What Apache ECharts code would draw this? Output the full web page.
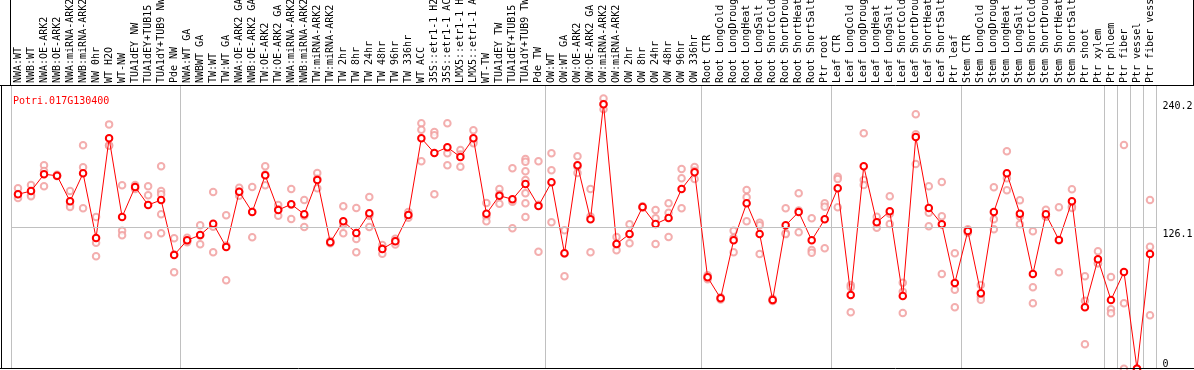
<!DOCTYPE html>
<html>
<head>
<meta charset="utf-8">
<script src="https://cdn.jsdelivr.net/npm/echarts@6/dist/echarts.min.js"></script>
<style>
html,body{margin:0;padding:0;background:#fff;}
#c{width:1194px;height:370px;}
</style>
</head>
<body>
<div id="c"></div>
<script>
const geneTitle = "Potri.017G130400";

const categories = [
  "NWA:WT","NWB:WT","NWA:OE-ARK2","NWB:OE-ARK2","NWA:miRNA-ARK2","NWB:miRNA-ARK2","NW 0hr","WT H2O","WT-NW","TUA1dEY NW","TUA1dEY+TUB15 NW","TUA1dY+TUB9 NW","Pde NW",
  "NWA:WT GA","NWBWT GA","TW:WT","TW:WT GA","NWA:OE-ARK2 GA","NWB:OE-ARK2 GA","TW:OE-ARK2","TW:OE-ARK2 GA","NWA:miRNA-ARK2 GA","NWB:miRNA-ARK2 GA","TW:miRNA-ARK2","TW:miRNA-ARK2 GA","TW 2hr","TW 8hr","TW 24hr","TW 48hr","TW 96hr","TW 336hr","WT ACC","35S::etr1-1 H2O","35S::etr1-1 ACC","LMX5::etr1-1 H2O","LMX5::etr1-1 ACC","WT-TW","TUA1dEY TW","TUA1dEY+TUB15 TW","TUA1dY+TUB9 TW","Pde TW",
  "OW:WT","OW:WT GA","OW:OE-ARK2","OW:OE-ARK2 GA","OW:miRNA-ARK2","OW:miRNA-ARK2 GA","OW 2hr","OW 8hr","OW 24hr","OW 48hr","OW 96hr","OW 336hr",
  "Root CTR","Root LongCold","Root LongDrought","Root LongHeat","Root LongSalt","Root ShortCold","Root ShortDrought","Root ShortHeat","Root ShortSalt","Ptr root",
  "Leaf CTR","Leaf LongCold","Leaf LongDrought","Leaf LongHeat","Leaf LongSalt","Leaf ShortCold","Leaf ShortDrought","Leaf ShortHeat","Leaf ShortSalt","Ptr leaf",
  "Stem CTR","Stem LongCold","Stem LongDrought","Stem LongHeat","Stem LongSalt","Stem ShortCold","Stem ShortDrought","Stem ShortHeat","Stem ShortSalt","Ptr shoot","Ptr xylem",
  "Ptr phloem","Ptr fiber","Ptr vessel","Ptr fiber vessel"
];

// indices of the first category of each group (separator lines)
const groupStarts = [0, 13, 41, 53, 63, 73, 84, 85, 86, 87];

const means = [
  155.7,158.6,173.5,172.3,149.4,174.4,116.8,205.6,135.5,162.2,146.2,150.6,101.6,
  114.7,119.4,129.5,108.7,158.0,139.9,172.6,141.7,146.8,137.9,168.4,112.9,131.6,121.2,138.8,107.0,113.8,137.3,205.6,192.5,197.6,188.9,205.6,138.4,154.5,151.2,164.9,145.3,
  166.4,103.1,181.5,133.4,235.9,111.4,120.3,144.4,129.2,134.6,160.4,175.3,
  81.7,63.0,114.7,147.7,120.3,61.5,128.1,139.9,114.7,133.4,
  161.0,66.0,180.7,130.7,140.5,65.1,206.8,143.5,129.0,76.6,
  123.0,67.5,139.9,174.4,138.4,84.7,137.9,115.0,149.4,55.0,97.8,
  61.5,86.5,0.3,102.5
];

const replicates = [
  [161,156,152.5],[164,155,154],[181.5,176.5,162.8],[173,172,172],[158.6,146,144.4],[199.4,179.7,143.2],[135.5,112.6,100.4],[218,199.4,199],[163.7,123.3,119.1],[164,162,160.5],[162.8,154.8,119.1],[180.7,158.6,155.7,137.9,121],[116.5,102,86.2],
  [117,114,113],[128.1,119,111.1],[157.8,126.7,104],[137,110,79],[161.6,158,154.5],[162.2,140.1,117.4],[180.7,173.4,163.7],[146.2,142.3,136.6],[160.4,146.3,133.7],[150.6,136.5,126.6],[174.7,169.5,161],[114,113,112],[145,128.9,120.9],[143.5,115.9,104],[153.3,136.5,126.6],[110.5,107.7,102.8],[116,114,111],[139.9,137.3,134.7],[219,213.3,185.1],[211.2,208.3,155.7],[219,192.2,181.5],[195.2,191.2,180.3],[212.7,203,201.1],[148,135.6,131.6],[160.4,155.8,147.3],[178.9,149.1,125.4],[187.2,184.8,176.2,168.4,156.6,147.7,135.5],[185.1,146.3,104.5],
  [192.2,177.1,130.7],[123.6,103,82.6],[189.5,180.3,174.7],[160.4,135.8,104],[241,236.1,231.4],[117.6,110.8,105.8],[129,120,112],[145,144.4,143.8],[141.7,134.3,111.4],[147.7,139.3,117.6],[178.3,170,143.2],[180,176.6,169.3],
  [83.5,81.7,80],[64,63,62],[123.3,116.8,104],[159.5,153,131.6],[130.4,128.1,102.5],[62.5,61.5,60.5],[143.2,120.9,120.2],[156.6,141.3,121.8],[134.3,106.1,103.7],[147.7,144.7,107.6],
  [171.4,169.3,144.1],[74.9,72.8,50.5],[210,168.4,164],[135.7,130.5,125.9],[153.9,138.4,129.2],[76.9,68.9,49.9],[227,209.2,182.7],[162.8,139.3,127.2],[166.7,136.1,84.7],[103.1,70.7,55],
  [124.5,123,121.5],[74.9,64.4,61.8],[161.9,133.4,124.5],[194,169.9,159.3],[150.4,135.8,129],[122.7,72.8,58.6],[142,136,135.7],[144.1,114.7,86.2],[160.1,144.7,143.4],[82.6,60.9,22],[104.9,94.3,94.2],
  [82,53.2,49.6],[199.6,58.6,0.3],[0.5,0.3,0],[150.6,109,47.9]
];

const yMax = 252.2;
const midLine = 126.1;
const upperLabels = [126.1, 240.2];
const lowerLabels = [0];

const repPoints = [];
replicates.forEach((arr, i) => arr.forEach(v => repPoints.push([i, v])));

const mono = "DejaVu Sans Mono";
const isSep = (idx) => groupStarts.indexOf(idx) >= 0;

const chart = echarts.init(document.getElementById('c'), null, {renderer: 'canvas'});
chart.setOption({
  animation: false,
  backgroundColor: '#ffffff',
  title: {
    text: geneTitle,
    left: 8, top: 91,
    textStyle: {color: '#ff0000', fontFamily: mono, fontSize: 10, fontWeight: 'normal'}
  },
  grid: {left: 11.5, right: 37.5, top: 86, bottom: 1, containLabel: false, outerBoundsMode: 'none'},
  xAxis: {
    type: 'category',
    position: 'top',
    data: categories,
    boundaryGap: true,
    axisLine: {show: false},
    axisTick: {show: true, interval: isSep, length: 86, lineStyle: {color: '#c0c0c0', width: 1}},
    splitLine: {show: true, interval: isSep, lineStyle: {color: '#c0c0c0', width: 1}},
    axisLabel: {
      interval: 0, rotate: 90, margin: 3, hideOverlap: false,
      fontFamily: mono, fontSize: 10, color: '#000'
    }
  },
  yAxis: [
    {
      type: 'value', min: 0, max: yMax, position: 'right',
      axisLine: {show: false}, axisTick: {show: false}, splitLine: {show: false},
      axisLabel: {customValues: upperLabels, verticalAlign: 'top', margin: 6, padding: [2, 0, 0, 0], fontFamily: mono, fontSize: 10, color: '#000'}
    },
    {
      type: 'value', min: 0, max: yMax, position: 'right',
      axisLine: {show: false}, axisTick: {show: false}, splitLine: {show: false},
      axisLabel: {customValues: lowerLabels, verticalAlign: 'bottom', margin: 6, fontFamily: mono, fontSize: 10, color: '#000'}
    }
  ],
  series: [
    {
      type: 'scatter',
      yAxisIndex: 0,
      data: repPoints,
      symbol: 'emptyCircle',
      symbolSize: 6.5,
      itemStyle: {color: '#f09a9a', borderColor: '#f09a9a', borderWidth: 1.1},
      z: 1,
      silent: true,
      markLine: {
        silent: true, symbol: 'none', label: {show: false},
        lineStyle: {color: '#c0c0c0', width: 1, type: 'solid'},
        data: [{yAxis: midLine}]
      }
    },
    {
      type: 'line',
      yAxisIndex: 0,
      data: means,
      symbol: 'emptyCircle',
      symbolSize: 6.5,
      lineStyle: {color: '#ff0000', width: 1},
      itemStyle: {color: '#ff0000', borderColor: '#ff0000', borderWidth: 1.5},
      z: 3,
      silent: true
    }
  ],
  graphic: [
    {type: 'line', z: 100, shape: {x1: 0, y1: 85.5, x2: 1194, y2: 85.5}, style: {stroke: '#000', lineWidth: 1}},
    {type: 'line', z: 100, shape: {x1: 0, y1: 368.5, x2: 1194, y2: 368.5}, style: {stroke: '#000', lineWidth: 1}},
    {type: 'line', z: 100, shape: {x1: 1.5, y1: 85.5, x2: 1.5, y2: 369}, style: {stroke: '#000', lineWidth: 1}},
    {type: 'line', z: 100, shape: {x1: 10.5, y1: 0, x2: 10.5, y2: 85.5}, style: {stroke: '#000', lineWidth: 1}},
    {type: 'line', z: 100, shape: {x1: 1193.5, y1: 0, x2: 1193.5, y2: 85.5}, style: {stroke: '#000', lineWidth: 1}}
  ]
});
</script>
</body>
</html>
